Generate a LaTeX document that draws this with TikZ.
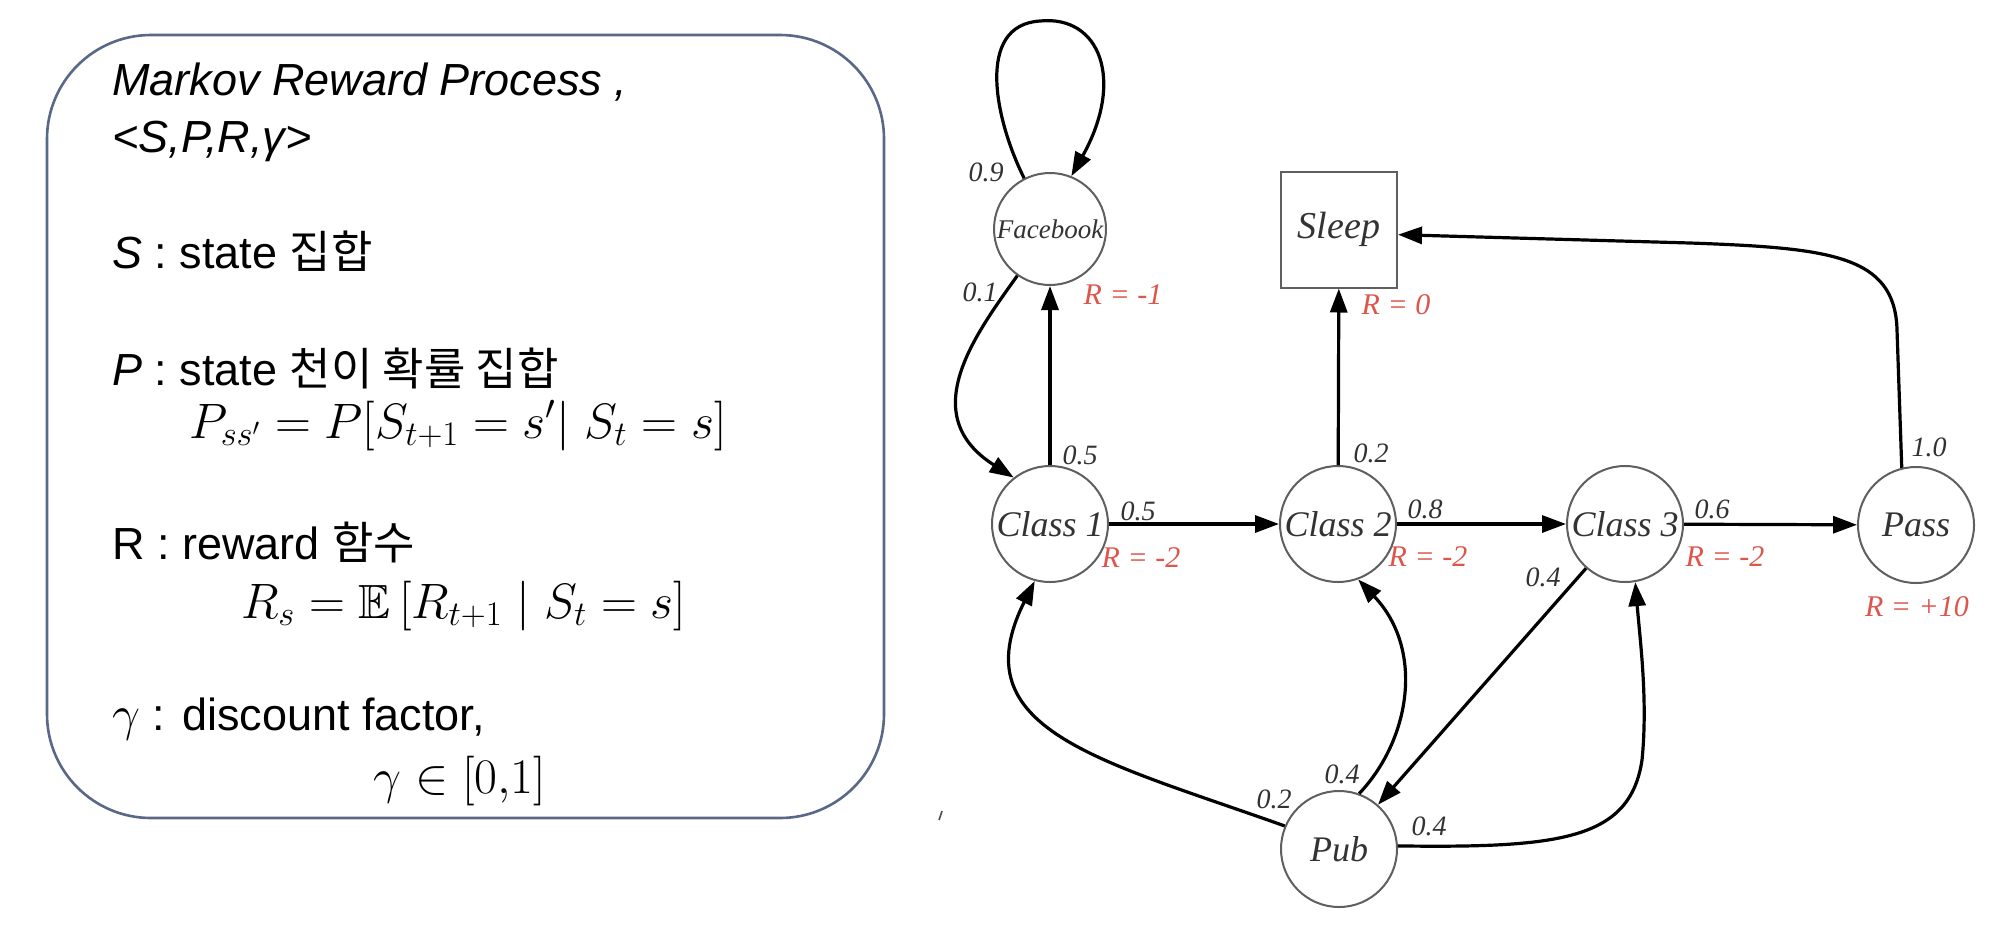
\documentclass[tikz,border=0pt]{standalone}
\usepackage{amssymb}
\usepackage{fontspec}
\usetikzlibrary{arrows.meta}
\newfontfamily\arialf{Liberation Sans}
\newfontfamily\timesf{Liberation Serif}
\newfontfamily\korf{Noto Sans CJK KR}
\definecolor{boxc}{RGB}{88,104,134}
\definecolor{redc}{RGB}{222,85,75}
\definecolor{nodec}{RGB}{95,95,95}
\definecolor{lblc}{RGB}{50,50,50}
\tikzset{
  txt/.style={anchor=base west, inner sep=0pt, font=\arialf\fontsize{22.5}{27}\selectfont},
  mtxt/.style={anchor=base west, inner sep=0pt, font=\fontsize{24}{28}\selectfont},
  st/.style={circle, draw=nodec, line width=1pt, minimum size=58pt, inner sep=0pt,
    text=black!80, font=\timesf\itshape\fontsize{18}{18}\selectfont},
  sq/.style={rectangle, draw=nodec, line width=1pt, minimum size=58pt, inner sep=0pt,
    text=black!80, font=\timesf\itshape\fontsize{19}{19}\selectfont},
  edge/.style={line width=1.6pt, black, -{Triangle[length=12pt,width=8.5pt]}},
  plbl/.style={inner sep=0pt, text=lblc, font=\timesf\itshape\fontsize{14}{14}\selectfont},
  rlbl/.style={inner sep=0pt, text=redc, font=\timesf\itshape\fontsize{15}{15}\selectfont}
}
\begin{document}
\begin{tikzpicture}[x=0.5pt,y=-0.5pt]
\useasboundingbox (0,0) rectangle (2000,937);
\fill[white] (0,0) rectangle (2000,937);

% ---------- left definition box ----------
\draw[boxc, line width=1.3pt, rounded corners=52pt] (47,35) rectangle (884,818);
\node[txt] (t1) at (112,95) {\itshape Markov Reward Process ,};
\node[txt] (t2) at (112,152) {\itshape <S,P,R,γ>};
\node[txt] (t3) at (112,268) {{\itshape S} : state {\korf 집합}};
\node[txt] (t4) at (112,385) {{\itshape P} : state {\korf 천이 확률 집합}};
\node[mtxt] (m1) at (189,438) {$P_{ss'} = P[S_{t+1} = s'|\ S_t = s]$};
\node[txt] (t5) at (112,559) {R : reward {\korf 함수}};
\node[mtxt] (m2) at (241,618) {$R_s = \mathbb{E}\,[R_{t+1} \mid S_t = s]$};
\node[txt] (t6) at (112,730) {{\fontsize{24}{28}\selectfont$\gamma$} : discount factor,};
\node[mtxt] (m3) at (373,793) {$\gamma \in [0{,}1]$};

% ---------- Markov reward process graph ----------
\node[st, minimum size=56pt, font=\timesf\itshape\fontsize{13.5}{13.5}\selectfont] (fb) at (1050,229) {Facebook};
\node[sq] (sleep) at (1339,229.5) {Sleep};
\node[st] (c1) at (1050,524) {Class 1};
\node[st] (c2) at (1338,524) {Class 2};
\node[st] (c3) at (1625,524) {Class 3};
\node[st] (pass) at (1916,525) {Pass};
\node[st] (pub) at (1339,849) {Pub};

% edges
\draw[edge] (fb.117) .. controls (995,120) and (975,25) .. (1040,21)
            .. controls (1100,15) and (1125,80) .. (fb.68);
\draw[edge] (fb.235) .. controls (975,335) and (915,415) .. (c1.128);
\draw[edge] (c1) -- (fb);
\draw[edge] (c2) -- (sleep);
\draw[edge] (c1) -- (c2);
\draw[edge] (c2) -- (c3);
\draw[edge] (c3) -- (pass);
\draw[edge] (pass.104) -- (1897,330) .. controls (1895,255) and (1830,248) .. (1690,243) -- (sleep.-5);
\draw[edge] (c3) -- (pub);
\draw[edge] (pub.157) .. controls (1100,760) and (960,730) .. (c1.255);
\draw[edge] (pub.70) .. controls (1410,740) and (1425,650) .. (c2.290);
\draw[edge] (pub.3) .. controls (1560,848) and (1630,840) .. (1642,760)
            .. controls (1648,700) and (1640,640) .. (c3.280);

% probability labels
\node[plbl] (p09) at (986,172) {0.9};
\node[plbl] (p01) at (980,292) {0.1};
\node[plbl] (p05a) at (1080,455) {0.5};
\node[plbl] (p02a) at (1371,453) {0.2};
\node[plbl] (p10) at (1929,447) {1.0};
\node[plbl] (p05b) at (1138,511) {0.5};
\node[plbl] (p08) at (1425,509) {0.8};
\node[plbl] (p06) at (1712,509) {0.6};
\node[plbl] (p04a) at (1543,577) {0.4};
\node[plbl] (p04b) at (1342,774) {0.4};
\node[plbl] (p02b) at (1274,799) {0.2};
\node[plbl] (p04c) at (1429,826) {0.4};

% reward labels
\node[rlbl] (rfb) at (1123,295) {R = -1};
\node[rlbl] (rsl) at (1396,305) {R = 0};
\node[rlbl] (rc1) at (1141,558) {R = -2};
\node[rlbl] (rc2) at (1428,557) {R = -2};
\node[rlbl] (rc3) at (1725,557) {R = -2};
\node[rlbl] (rps) at (1917,607) {R = +10};

% small stray mark
\draw[black!70, line width=0.8pt] (939,820) -- (942,811);
\end{tikzpicture}
\end{document}
